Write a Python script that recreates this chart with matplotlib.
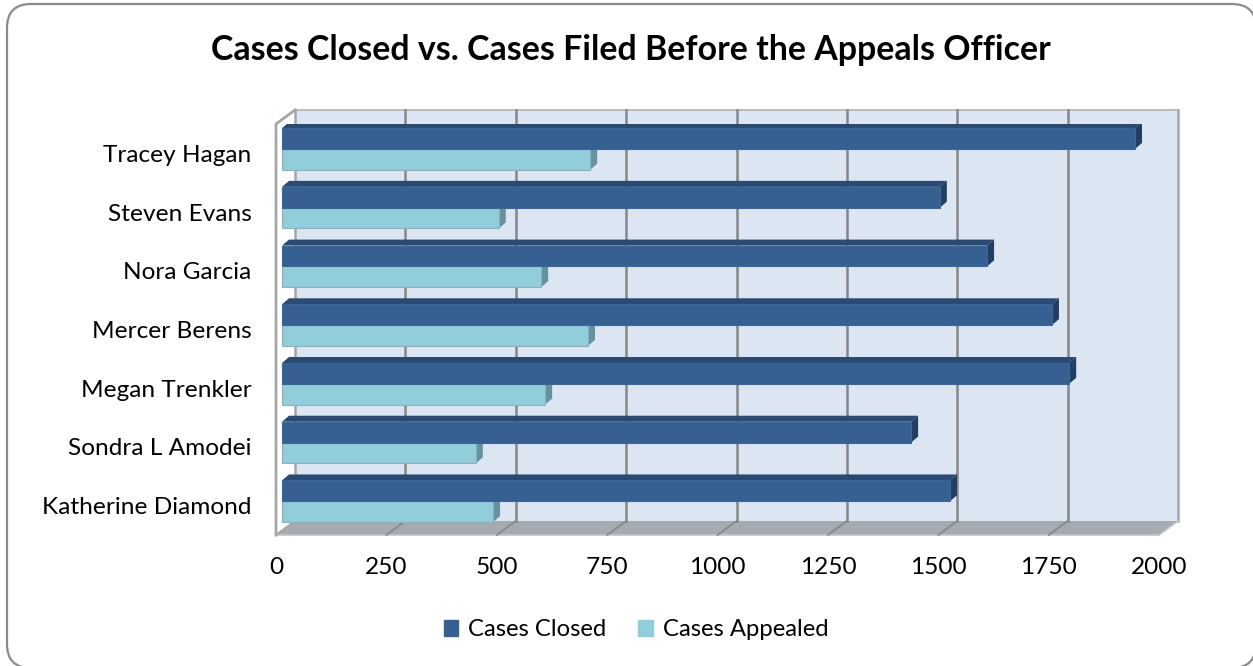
import matplotlib
matplotlib.use('Agg')
import matplotlib.pyplot as plt
from matplotlib.patches import FancyBboxPatch, Patch

names = ['Katherine Diamond', 'Sondra L Amodei', 'Megan Trenkler', 'Mercer Berens',
         'Nora Garcia', 'Steven Evans', 'Tracey Hagan']
closed = [1513, 1425, 1783, 1744, 1597, 1490, 1932]
appealed = [478, 439, 596, 693, 587, 491, 698]
ticks = [0, 250, 500, 750, 1000, 1250, 1500, 1750, 2000]
title = 'Cases Closed vs. Cases Filed Before the Appeals Officer'

plt.rcParams['font.family'] = ['Lato', 'DejaVu Sans']

W, H = 1253, 666
fig = plt.figure(figsize=(W / 100, H / 100), dpi=100)

# whole figure overlay in pixels, for the rounded frame (runs off the right and bottom edge)
bg = fig.add_axes([0, 0, 1, 1])
bg.set_xlim(0, W)
bg.set_ylim(H, 0)
bg.axis('off')
bg.add_patch(FancyBboxPatch((31, 28), 1201, 616, boxstyle='round,pad=24,rounding_size=24',
                            fc='white', ec='#8a8a8a', lw=1.6))
bg.text(631, 50, title, ha='center', va='center', fontsize=24.4, fontweight='bold', color='black')

# front plane of the 3d box
ax = fig.add_axes([276 / W, (H - 535) / H, 883 / W, 411 / H])
ax.set_xlim(0, 2000)
ax.set_ylim(-0.5, 6.5)
ax.patch.set_alpha(0)
for s in ax.spines.values():
    s.set_visible(False)

px = 2000 / 883   # value units per pixel
py = 7 / 411      # category units per pixel
wall_x = 19 * px
wall_y = 14 * py
ymin, ymax = -0.5, 6.5

# back wall, floor, left wall
ax.fill([wall_x, 2000 + wall_x, 2000 + wall_x, wall_x],
        [ymin + wall_y, ymin + wall_y, ymax + wall_y, ymax + wall_y],
        color='#dce6f2', lw=0, clip_on=False, zorder=1)
ax.fill([0, 2000, 2000 + wall_x, wall_x], [ymin, ymin, ymin + wall_y, ymin + wall_y],
        color='#a6abb1', lw=0, clip_on=False, zorder=1)
ax.plot([0, 2000], [ymin, ymin], color='#c4c4c4', lw=1.2, clip_on=False, zorder=2)
ax.plot([wall_x, 2000 + wall_x], [ymax + wall_y, ymax + wall_y], color='#bdbdbd', lw=1.5,
        clip_on=False, zorder=2)
ax.plot([0, 0, wall_x], [ymin, ymax, ymax + wall_y], color='#a6a6a6', lw=2, clip_on=False, zorder=2)
ax.plot([0, wall_x], [ymin, ymin + wall_y], color='#a6a6a6', lw=1.5, clip_on=False, zorder=2)

for t in ticks:
    c = '#868686' if 0 < t < 2000 else '#a6a6a6'
    ax.plot([t + wall_x, t + wall_x], [ymin + wall_y, ymax + wall_y], color=c, lw=1.8,
            clip_on=False, zorder=2)
    if t > 0 and t < 2000:
        ax.plot([t, t + wall_x], [ymin, ymin + wall_y], color='#868686', lw=1.2, clip_on=False, zorder=2)
ax.plot([2000, 2000 + wall_x], [ymin, ymin + wall_y], color='#c4c4c4', lw=1.2, clip_on=False, zorder=2)

# bars
start = 6 * px
shift = 4.4 * py
bar_h = 20.8 * py
side_x = 7 * px
side_y = 6 * py


def draw_bar(y, val, front, top, side, edge, z):
    left = start
    right = start + val
    ax.fill([left, right, right + side_x, left + side_x],
            [y + bar_h / 2, y + bar_h / 2, y + bar_h / 2 + side_y, y + bar_h / 2 + side_y],
            color=top, lw=0, zorder=z)
    ax.fill([right, right + side_x, right + side_x, right],
            [y - bar_h / 2, y - bar_h / 2 + side_y, y + bar_h / 2 + side_y, y + bar_h / 2],
            color=side, lw=0, zorder=z)
    ax.barh(y, val, height=bar_h, left=left, color=front, edgecolor=edge, lw=0.8, zorder=z + 0.2)


for i in range(6, -1, -1):
    z = 10 + (6 - i) * 2
    draw_bar(i + shift - bar_h / 2, appealed[i], '#92cddc', '#a9d6e2', '#65929e', '#8fb0ba', z)
    draw_bar(i + shift + bar_h / 2, closed[i], '#366092', '#2a4a73', '#223f62', '#3d6797', z + 1)

ax.set_xticks(ticks)
ax.set_xticklabels([str(t) for t in ticks], fontsize=17.6)
ax.set_yticks(range(7))
ax.set_yticklabels(names, fontsize=17.6)
ax.tick_params(axis='both', length=0)
ax.tick_params(axis='x', pad=16)
ax.tick_params(axis='y', pad=17.5)

fig.legend(handles=[Patch(color='#366092', label='Cases Closed'), Patch(color='#92cddc', label='Cases Appealed')],
           loc='center', bbox_to_anchor=(636 / W, 1 - 630 / H), ncol=2, frameon=False,
           fontsize=17.2, handlelength=0.62, handleheight=0.62, handletextpad=0.4, columnspacing=1.35)

fig.savefig('out.png', dpi=100)
